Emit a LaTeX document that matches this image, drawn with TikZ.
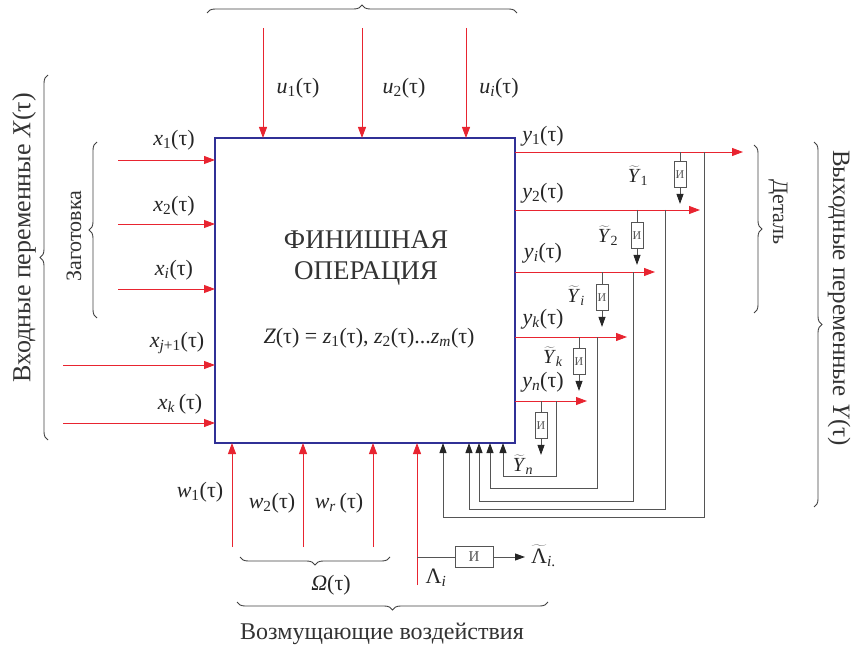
\documentclass[tikz,border=0pt]{standalone}
\usepackage{fontspec}
\setmainfont{Liberation Serif}
\usetikzlibrary{arrows.meta,decorations.pathreplacing,calc}
\definecolor{rd}{RGB}{232,36,48}
\definecolor{bl}{RGB}{48,48,150}
\definecolor{gr}{RGB}{85,85,85}
\newcommand{\tv}[2]{\textit{#1}\textsubscript{#2}(τ)}
\newcommand{\tY}[1]{$\widetilde{\mbox{\textit{Y}}}$\textsubscript{#1}}
\begin{document}
\begin{tikzpicture}[x=1pt,y=-1pt,
  redarrow/.style={draw=rd, line width=0.9pt, -{Triangle[length=11pt,width=8pt]}},
  fb/.style={draw=gr, line width=0.9pt, arrows={-{Triangle[length=10pt,width=7pt,color=black!85]}}},
  tap/.style={draw=gr, line width=0.9pt},
  ibox/.style={draw=gr, line width=0.9pt, minimum width=12pt, minimum height=26pt, inner sep=0pt, font=\fontsize{12}{12}\selectfont, text=gr},
  lab/.style={inner sep=0pt, font=\fontsize{22}{24}\selectfont, text=black!85},
  tlab/.style={inner sep=0pt, font=\fontsize{20}{22}\selectfont, text=black!85},
  brc/.style={decorate, decoration={brace,amplitude=8pt}, draw=black!75, line width=0.9pt},
  big/.style={inner sep=0pt, font=\fontsize{24}{26}\selectfont, text=black!80}]
\useasboundingbox (0,0) rectangle (856,652);

% main box
\coordinate (opnw) at (215,138);
\coordinate (opse) at (515,443);
\node[inner sep=0pt, minimum width=300pt, minimum height=305pt] (op) at ($(opnw)!0.5!(opse)$) {};
\draw[draw=bl, line width=1.3pt] (opnw) rectangle (opse);
\node[inner sep=0pt, font=\fontsize{27}{30}\selectfont, text=black!80] (t1) at (366,240) {ФИНИШНАЯ};
\node[inner sep=0pt, font=\fontsize{27}{30}\selectfont, text=black!80] (t2) at (366,273) {ОПЕРАЦИЯ};
\node[lab] (zf) at (369,338) {\textit{Z}(τ) = \tv{z}{1}, \tv{z}{2}...\tv{z}{\textit{m}}};

% top inputs
\foreach \n/\x in {u1/263,u2/362,ui/466} {
  \coordinate (\n s) at (\x,28);
  \draw[redarrow] (\n s) -- (\n s |- opnw);
}
\node[lab] (lu1) at (298,88) {\tv{u}{1}};
\node[lab] (lu2) at (404,88) {\tv{u}{2}};
\node[lab] (lui) at (499,88) {\tv{u}{\textit{i}}};
\coordinate (tb1) at (207,13); \coordinate (tb2) at (517,13);
\draw[brc] (tb1) -- (tb2);

% left inputs
\foreach \n/\x/\y in {x1/118/160,x2/118/224,xi/118/289,xj/63/365,xk/63/423} {
  \coordinate (\n s) at (\x,\y);
  \draw[redarrow] (\n s) -- (\n s -| opnw);
}
\node[lab] (lx1) at (174,140) {\tv{x}{1}};
\node[lab] (lx2) at (174,206) {\tv{x}{2}};
\node[lab] (lxi) at (174,270) {\tv{x}{\textit{i}}};
\node[lab] (lxj) at (177,343) {\tv{x}{\textit{j}+1}};
\node[lab] (lxk) at (180,404) {\textit{x}\textsubscript{\textit{k}}\,(τ)};
\coordinate (lb1) at (97,318); \coordinate (lb2) at (97,142);
\draw[brc] (lb1) -- (lb2);
\node[inner sep=0pt, rotate=90, font=\fontsize{22}{24}\selectfont, text=black!80] (zag) at (74,236) {Заготовка};
\coordinate (ob1) at (48,440); \coordinate (ob2) at (48,75);
\draw[brc] (ob1) -- (ob2);
\node[big, rotate=90, font=\fontsize{26}{28}\selectfont] (vx) at (24,238) {Входные переменные \textit{X}(τ)};

% outputs
\foreach \n/\y/\e in {y1/152/743,y2/210/700,yi/272/655,yk/337/627,yn/401/587} {
  \coordinate (\n s) at (515,\y);
  \coordinate (\n e) at (\e,\y);
  \draw[redarrow] (\n s) -- (\n e);
}
\node[lab] (ly1) at (543,136) {\tv{y}{1}};
\node[lab] (ly2) at (543,193) {\tv{y}{2}};
\node[lab] (lyi) at (543,253) {\tv{y}{\textit{i}}};
\node[lab] (lyk) at (543,319) {\tv{y}{\textit{k}}};
\node[lab] (lyn) at (543,382) {\tv{y}{\textit{n}}};

% measuring boxes on outputs
\foreach \n/\x/\y/\t in {y1/680/152/161, y2/637/210/222, yi/602/272/284, yk/579/337/348, yn/541/401/412} {
  \node[ibox, anchor=north] (m\n) at (\x,\t) {И};
  \coordinate (m\n t) at (\x,\y);
  \coordinate (m\n e) at ($(m\n.south)+(0,16)$);
  \draw[tap] (m\n t) -- (m\n.north);
  \draw[fb] (m\n.south) -- (m\n e);
}
\node[tlab] (lt1) at (638,176) {\tY{1}};
\node[tlab] (lt2) at (608,236) {\tY{2}};
\node[tlab] (lti) at (576,296) {\tY{\textit{i}}};
\node[tlab] (ltk) at (553,357) {\tY{\textit{k}}};
\node[tlab] (ltn) at (523,465) {\tY{\textit{n}}};

% feedback lines
\foreach \n/\vx/\by/\ax in {y1/704/517/443, y2/665/509/469, yi/633/501/479, yk/597/488/490, yn/556/476/503} {
  \coordinate (f\n a) at (\vx,0 |- \n s);
  \coordinate (f\n b) at (\vx,\by);
  \coordinate (f\n c) at (\ax,\by);
  \draw[fb] (f\n a) -- (f\n b) -- (f\n c) -- (f\n c |- opse);
}

% right braces
\coordinate (rb1) at (754,145); \coordinate (rb2) at (754,313);
\draw[brc] (rb1) -- (rb2);
\node[inner sep=0pt, rotate=-90, font=\fontsize{22}{24}\selectfont, text=black!80] (det) at (778,212) {Деталь};
\coordinate (ro1) at (814,142); \coordinate (ro2) at (814,507);
\draw[brc] (ro1) -- (ro2);
\node[big, rotate=-90, font=\fontsize{25}{27}\selectfont] (vy) at (839,298) {Выходные переменные \textit{Y}(τ)};

% bottom disturbances
\foreach \n/\x/\y in {w1/232/547,w2/303/547,wr/373/547,la/417/585} {
  \coordinate (\n s) at (\x,\y);
  \draw[redarrow] (\n s) -- (\n s |- opse);
}
\node[lab] (lw1) at (200,492) {\tv{w}{1}};
\node[lab] (lw2) at (272,503) {\tv{w}{2}};
\node[lab] (lwr) at (339,503) {\textit{w}\textsubscript{\textit{r}}\,(τ)};
\node[lab] (lla) at (436,578) {Λ\textsubscript{\textit{i}}};
\node[draw=gr, line width=0.9pt, minimum width=38pt, minimum height=21pt, inner sep=0pt, font=\fontsize{15}{15}\selectfont, text=gr] (mla) at (474,557) {И};
\coordinate (lat) at (417,557);
\coordinate (lae) at (525,557);
\draw[tap] (lat) -- (mla.west);
\draw[fb] (mla.east) -- (lae);
\node[lab, anchor=west] (llt) at (531,556) {$\widetilde{\mbox{Λ}}$\textsubscript{\textit{i}.}};
\coordinate (wb1) at (390,557); \coordinate (wb2) at (240,557);
\draw[brc] (wb1) -- (wb2);
\node[lab] (lom) at (331,585) {\textit{Ω}(τ)};
\coordinate (bb1) at (548,602); \coordinate (bb2) at (237,602);
\draw[brc] (bb1) -- (bb2);
\node[big] (voz) at (382,634) {Возмущающие воздействия};
\end{tikzpicture}
\end{document}
